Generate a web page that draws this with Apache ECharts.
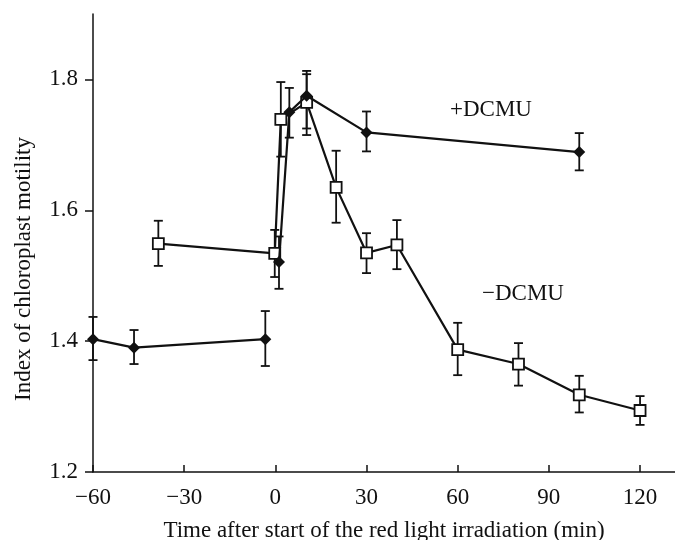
<!DOCTYPE html>
<html>
<head>
<meta charset="utf-8">
<script src="https://cdn.jsdelivr.net/npm/echarts@6/dist/echarts.min.js"></script>
<style>
  html, body { margin: 0; padding: 0; background: #fff; }
  #chart { width: 675px; height: 540px; }
</style>
</head>
<body>
<div id="chart"></div>
<script>
// time (min) and motility index
var plusT  = [-60, -46.5, -3.3, 1.2, 4.6, 10.3, 30, 100];
var plusV  = [1.403, 1.390, 1.403, 1.521, 1.750, 1.775, 1.719, 1.689];
var plusLo = [1.371, 1.365, 1.362, 1.480, 1.711, 1.715, 1.690, 1.661];
var plusHi = [1.437, 1.417, 1.446, 1.560, 1.787, 1.813, 1.751, 1.718];
var plusBreak = 3; // no line between -3 min and +1 min

var minusT  = [-38.5, -0.2, 1.8, 10.3, 20, 30, 40, 60, 80, 100, 120];
var minusV  = [1.549, 1.534, 1.739, 1.765, 1.635, 1.535, 1.547, 1.387, 1.365, 1.318, 1.294];
var minusLo = [1.515, 1.498, 1.682, 1.725, 1.581, 1.504, 1.510, 1.348, 1.332, 1.291, 1.272];
var minusHi = [1.584, 1.570, 1.796, 1.808, 1.691, 1.565, 1.585, 1.428, 1.397, 1.347, 1.316];

var xTicks = [-60, -30, 0, 30, 60, 90, 120];
var yTicks = [1.2, 1.4, 1.6, 1.8];

var FONT = 'Liberation Serif';
var INK = '#111';

function pairs(xs, ys, from, to) {
    var out = [];
    for (var i = from; i < to; i++) out.push([xs[i], ys[i]]);
    return out;
}
function bars(xs, lo, hi) {
    return xs.map(function (x, i) { return [x, lo[i], hi[i]]; });
}

function renderErr(params, api) {
    var top = api.coord([api.value(0), api.value(2)]);
    var bot = api.coord([api.value(0), api.value(1)]);
    var w = 4.5;
    var st = { stroke: INK, lineWidth: 1.8 };
    return {
        type: 'group',
        children: [
            { type: 'line', shape: { x1: top[0], y1: top[1], x2: bot[0], y2: bot[1] }, style: st },
            { type: 'line', shape: { x1: top[0] - w, y1: top[1], x2: top[0] + w, y2: top[1] }, style: st },
            { type: 'line', shape: { x1: bot[0] - w, y1: bot[1], x2: bot[0] + w, y2: bot[1] }, style: st }
        ]
    };
}

var chart = echarts.init(document.getElementById('chart'));

var lineStyle = { color: INK, width: 2.2 };

chart.setOption({
    animation: false,
    backgroundColor: '#fff',
    grid: { left: 93, right: 0, top: 14, bottom: 68, outerBoundsMode: 'none' },
    xAxis: {
        type: 'value', min: -60, max: 131.5,
        axisLine: { onZero: false, lineStyle: { color: INK, width: 1.5 } },
        axisTick: { inside: true, length: 7, customValues: xTicks, lineStyle: { color: INK, width: 1.5 } },
        axisLabel: {
            customValues: xTicks, margin: 14,
            fontFamily: FONT, fontSize: 23, color: INK,
            formatter: function (v) { return String(v).replace('-', '\u2212'); }
        },
        splitLine: { show: false },
        name: 'Time after start of the red light irradiation (min)',
        nameLocation: 'middle', nameGap: 47,
        nameTextStyle: { fontFamily: FONT, fontSize: 23, color: INK }
    },
    yAxis: {
        type: 'value', min: 1.2, max: 1.9,
        axisLine: { show: true, onZero: false, lineStyle: { color: INK, width: 1.5 } },
        axisTick: { show: true, length: 8, customValues: yTicks, lineStyle: { color: INK, width: 1.5 } },
        axisLabel: {
            customValues: yTicks, margin: 15,
            fontFamily: FONT, fontSize: 23, color: INK,
            formatter: function (v) { return v.toFixed(1); }
        },
        splitLine: { show: false }
    },
    graphic: [
        { type: 'text', x: 24, y: 269, rotation: Math.PI / 2,
          style: { text: 'Index of chloroplast motility', font: '23px "Liberation Serif"', fill: INK, align: 'center', verticalAlign: 'middle' } },
        { type: 'text', x: 450, y: 110,
          style: { text: '+DCMU', font: '23px "Liberation Serif"', fill: INK, align: 'left', verticalAlign: 'middle' } },
        { type: 'text', x: 482, y: 294,
          style: { text: '\u2212DCMU', font: '23px "Liberation Serif"', fill: INK, align: 'left', verticalAlign: 'middle' } }
    ],
    series: [
        { type: 'custom', name: '+DCMU err', data: bars(plusT, plusLo, plusHi),
          renderItem: renderErr, encode: { x: 0, y: [1, 2] }, z: 1 },
        { type: 'custom', name: '-DCMU err', data: bars(minusT, minusLo, minusHi),
          renderItem: renderErr, encode: { x: 0, y: [1, 2] }, z: 1 },
        { type: 'line', name: '-DCMU', data: pairs(minusT, minusV, 0, minusT.length),
          symbol: 'rect', symbolSize: 11, showAllSymbol: true,
          itemStyle: { color: '#fff', borderColor: INK, borderWidth: 1.8 },
          lineStyle: lineStyle, z: 3 },
        { type: 'line', name: '+DCMU', data: pairs(plusT, plusV, 0, plusBreak),
          symbol: 'diamond', symbolSize: 12, showAllSymbol: true,
          itemStyle: { color: INK }, lineStyle: lineStyle, z: 4 },
        { type: 'line', name: '+DCMU', data: pairs(plusT, plusV, plusBreak, plusT.length),
          symbol: 'diamond', symbolSize: 12, showAllSymbol: true,
          itemStyle: { color: INK }, lineStyle: lineStyle, z: 4 }
    ]
});
</script>
</body>
</html>
